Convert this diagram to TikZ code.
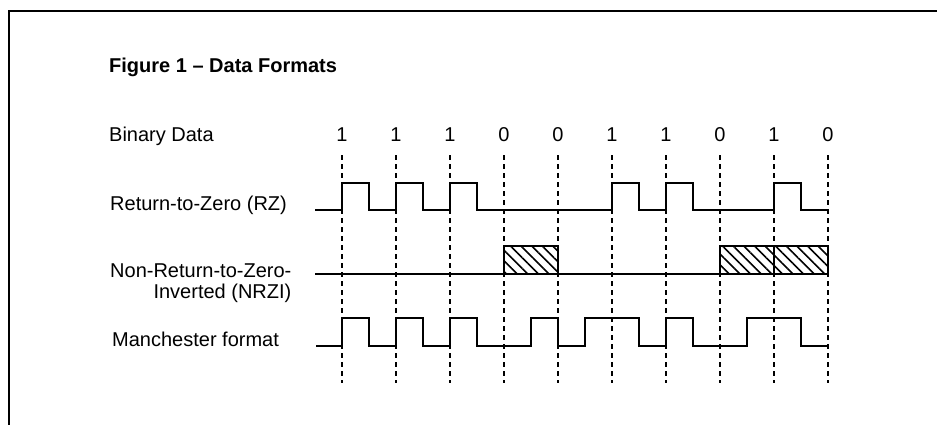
\documentclass[tikz,border=0pt]{standalone}
\usepackage{fontspec}
\setmainfont{Liberation Sans}
\usetikzlibrary{patterns.meta}

\begin{document}
\begin{tikzpicture}[x=1pt, y=-1pt,
    lbl/.style={anchor=west, inner sep=0pt, font=\fontsize{20}{20.5}\selectfont},
    bit/.style={inner sep=0pt, font=\fontsize{20}{20.5}\selectfont},
    tick/.style={line width=1.6pt, dash pattern=on 5pt off 4pt},
    wave/.style={line width=2.2pt, line join=miter},
    hatch/.style={wave, pattern={Lines[angle=-45, distance=7.5pt, line width=1.6pt]}}]
        \useasboundingbox (0,0) rectangle (937,425);
        \draw[line width=2.6pt] (9,425) -- (9,11) -- (937,11);

        \node[lbl, font=\fontsize{20}{20.5}\selectfont\bfseries] (title) at (109,67) {Figure 1 -- Data Formats};
        \node[lbl] (bin) at (109,136) {Binary Data};
        \node[lbl] (rz) at (110,205) {Return-to-Zero (RZ)};
        \node[lbl, align=right] (nrzi) at (110,283) {Non-Return-to-Zero-\\Inverted (NRZI)};
        \node[lbl] (man) at (112,339) {Manchester format};

        \foreach \b [count=\i from 0] in {1,1,1,0,0,1,1,0,1,0} {
            \node[bit] (d\i) at (342+54*\i,135) {\b};
            \draw[tick] ([yshift=-13pt]d\i.south) -- (342+54*\i,383);
        }

        \draw[wave] (315,210) -- (342,210) -- (342,183) -- (369,183) -- (369,210) -- (396,210) -- (396,183)
            -- (423,183) -- (423,210) -- (450,210) -- (450,183) -- (477,183) -- (477,210) -- (612,210)
            -- (612,183) -- (639,183) -- (639,210) -- (666,210) -- (666,183) -- (693,183) -- (693,210)
            -- (774,210) -- (774,183) -- (801,183) -- (801,210) -- (828,210);

        \draw[wave] (315,274) -- (504,274);
        \draw[wave] (558,274) -- (720,274);
        \draw[hatch] (504,246) rectangle (558,274);
        \draw[hatch] (720,246) rectangle (774,274);
        \draw[hatch] (774,246) rectangle (828,274);

        \draw[wave] (316,346) -- (342,346) -- (342,318) -- (369,318) -- (369,346) -- (396,346) -- (396,318)
            -- (423,318) -- (423,346) -- (450,346) -- (450,318) -- (477,318) -- (477,346) -- (531,346)
            -- (531,318) -- (558,318) -- (558,346) -- (585,346) -- (585,318) -- (639,318) -- (639,346)
            -- (666,346) -- (666,318) -- (693,318) -- (693,346) -- (747,346) -- (747,318) -- (801,318)
            -- (801,346) -- (828,346);
\end{tikzpicture}
\end{document}
